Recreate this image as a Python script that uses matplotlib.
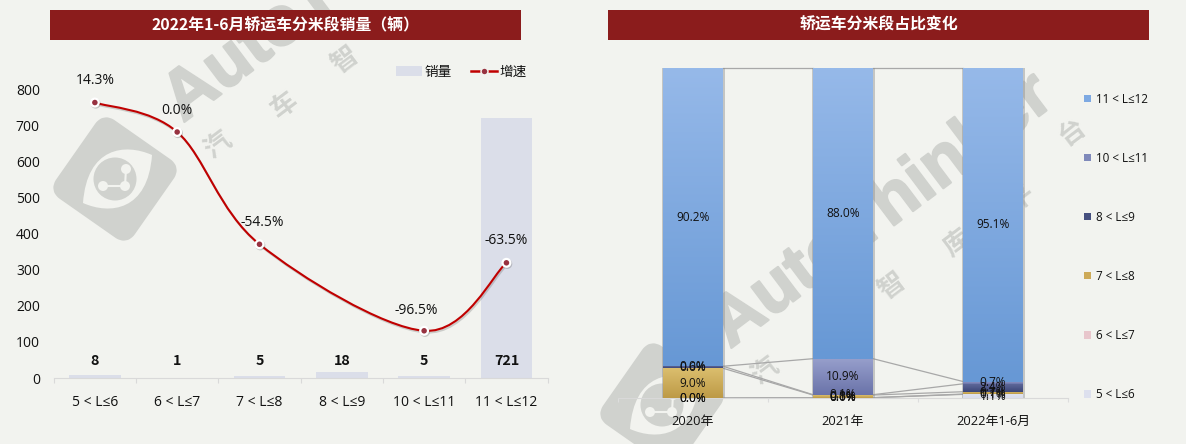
import numpy as np
import matplotlib
matplotlib.use("Agg")
import matplotlib.pyplot as plt
from matplotlib.path import Path
from matplotlib.patches import PathPatch, Rectangle, FancyBboxPatch, Circle, Patch
from matplotlib.lines import Line2D
from matplotlib.transforms import Affine2D
import matplotlib.patheffects as pe

plt.rcParams['font.family'] = ['Open Sans', 'Noto Sans CJK SC', 'DejaVu Sans']
BOLD_FAMILY = ['Noto Sans CJK SC', 'DejaVu Sans']

# ---------- data ----------
length_classes = ['5 < L≤6', '6 < L≤7', '7 < L≤8', '8 < L≤9', '10 < L≤11', '11 < L≤12']
sales = [8, 1, 5, 18, 5, 721]
growth_idx = [0, 1, 2, 4, 5]
growth = [14.3, 0.0, -54.5, -96.5, -63.5]

years = ['2020年', '2021年', '2022年1-6月']
share_5_6 = [0.0, 0.1, 1.1]
share_6_7 = [0.0, 0.0, 0.1]
share_7_8 = [9.0, 0.8, 0.7]
share_8_9 = [0.6, 0.1, 2.4]
share_10_11 = [0.0, 10.9, 0.7]
share_11_12 = [90.2, 88.0, 95.1]

W, H = 1186, 444
BG = '#F2F3EF'
RED = '#8B1C1C'
TXT = '#111111'
WM = '#D0D2CE'

fig = plt.figure(figsize=(W / 100, H / 100), dpi=100, facecolor=BG)


def axes_px(l, t, r, b, **kw):
    return fig.add_axes([l / W, 1 - b / H, (r - l) / W, (b - t) / H], **kw)


# ---------- background layer: watermark + title bars ----------
bg = axes_px(0, 0, W, H, zorder=0)
bg.set_xlim(0, W)
bg.set_ylim(H, 0)
bg.axis('off')


def logo(cx, cy):
    rot = Affine2D().rotate_deg(35).translate(cx, cy) + bg.transData
    bg.add_patch(FancyBboxPatch((-41, -41), 82, 82, boxstyle='round,pad=0,rounding_size=7',
                                mutation_aspect=1, fc=WM, ec=WM, lw=10, joinstyle='round',
                                transform=rot, zorder=1))
    t = Affine2D().translate(cx, cy) + bg.transData
    leaf = Path([(37, -24), (10, -36), (-28, -32), (-32, 24), (-5, 36), (33, 32), (37, -24)],
                [Path.MOVETO, Path.CURVE4, Path.CURVE4, Path.CURVE4, Path.CURVE4, Path.CURVE4, Path.CURVE4])
    bg.add_patch(PathPatch(leaf, fc=BG, ec='none', transform=t, zorder=1.1))
    bg.add_patch(Circle((cx, cy), 21.5, fc=WM, ec='none', zorder=1.2))
    atoms = [(-12, 7), (11, -10), (10, 7)]
    for a, b in [(0, 2), (1, 2)]:
        bg.plot([cx + atoms[a][0], cx + atoms[b][0]], [cy + atoms[a][1], cy + atoms[b][1]],
                color=BG, lw=1.5, zorder=1.3)
    for ax_, ay_ in atoms:
        bg.add_patch(Circle((cx + ax_, cy + ay_), 5, fc=BG, ec='none', zorder=1.3))


def watermark(dx, dy, word, chars):
    bg.text(730 + dx, 349 + dy, word, rotation=37, rotation_mode='anchor',
            ha='left', va='baseline', family='Liberation Sans', weight='bold',
            fontsize=50, color=WM, zorder=1,
            path_effects=[pe.withStroke(linewidth=1.6, foreground=WM)])
    for ch, x, y in chars:
        bg.text(x + dx, y + dy, ch, rotation=37, ha='center', va='center', family=BOLD_FAMILY,
                fontsize=19, color=WM, weight='bold', zorder=1)
    logo(662 + dx, 405 + dy)


wm_chars = [('汽', 765, 371), ('车', 832, 331), ('智', 892, 286),
            ('库', 957, 243), ('平', 1022, 198), ('台', 1072, 132)]
watermark(0, 0, 'AutoThinker', wm_chars)
watermark(-547, -226, 'AutoT', wm_chars[:3])

for l, r, t in [(50, 521, '2022年1-6月轿运车分米段销量（辆）'), (608, 1149, '轿运车分米段占比变化')]:
    bg.add_patch(Rectangle((l, 10), r - l, 30, fc=RED, ec='none', zorder=5))
    bg.text((l + r) / 2, 25, t, color='white', ha='center', va='center', family=BOLD_FAMILY,
            fontsize=11.4, weight='bold', zorder=6)

# ---------- left chart ----------
ax = axes_px(53.7, 60, 547.6, 378, zorder=2, facecolor='none')
PX_PER_UNIT = 0.361
x = np.arange(len(sales))
ax.bar(x, sales, width=0.625, color='#DBDEE9', zorder=2)
ax.set_xlim(-0.5, 5.5)
ax.set_ylim(0, 318 / PX_PER_UNIT)
ax.set_yticks(range(0, 801, 100))
ax.set_xticks(x)
ax.set_xticklabels(length_classes)
ax.set_xticks(np.arange(-0.5, 6, 1), minor=True)
ax.tick_params(axis='x', which='major', length=0, pad=12, labelsize=10, labelcolor=TXT)
ax.tick_params(axis='x', which='minor', length=3.5, color='#D9D9D9', width=0.8)
ax.tick_params(axis='y', length=0, pad=10, labelsize=10, labelcolor=TXT)
for s in ['top', 'left', 'right']:
    ax.spines[s].set_visible(False)
ax.spines['bottom'].set_color('#D9D9D9')
for xi, v in zip(x, sales):
    ax.text(xi, 47, str(v), ha='center', va='center', fontsize=10.3, weight='bold',
            family=BOLD_FAMILY, color=TXT, zorder=6)

ax2 = ax.twinx()
ax2.set_zorder(3)
ax2.patch.set_visible(False)
ax2.set_ylim(-246 / 2.06, 72 / 2.06)
ax2.axis('off')
px = np.array(growth_idx, float)
py = np.array(growth, float)
n = len(px)
verts = [(px[0], py[0])]
codes = [Path.MOVETO]
for i in range(n - 1):
    p0 = (px[max(i - 1, 0)], py[max(i - 1, 0)])
    p1 = (px[i], py[i])
    p2 = (px[i + 1], py[i + 1])
    p3 = (px[min(i + 2, n - 1)], py[min(i + 2, n - 1)])
    c1 = (p1[0] + (p2[0] - p0[0]) / 6, p1[1] + (p2[1] - p0[1]) / 6)
    c2 = (p2[0] - (p3[0] - p1[0]) / 6, p2[1] - (p3[1] - p1[1]) / 6)
    verts += [c1, c2, p2]
    codes += [Path.CURVE4] * 3
curve = PathPatch(Path(verts, codes), fc='none', ec='#C00000', lw=1.5, zorder=4,
                  path_effects=[pe.SimpleLineShadow(offset=(0.8, -1.2), alpha=0.22, shadow_color='#444444'),
                                pe.Normal()])
ax2.add_patch(curve)
ax2.plot(px, py, ls='none', marker='o', ms=5.6, mfc='#973240', mec='white', mew=1.6, zorder=5,
         path_effects=[pe.SimpleLineShadow(offset=(0.6, -0.8), alpha=0.25, shadow_color='#444444'), pe.Normal()])
for xi, yi, v in zip(px, py, growth):
    off = -6 if v == -96.5 else (2 if v == -54.5 else 0)
    dy = 14.5 if v == -96.5 else 15.8
    ax2.annotate(f'{v:.1f}%', (xi, yi), xytext=(off, dy), textcoords='offset points',
                 ha='center', va='center', fontsize=10, color=TXT, zorder=6)

ax.legend(handles=[Patch(fc='#DBDEE9', ec='none'),
                   Line2D([], [], color='#C00000', lw=1.8, marker='o', ms=5, mfc='#973240', mec=BG, mew=1.1)],
          labels=['销量', '增速'], ncol=2, frameon=False, loc='upper right',
          bbox_to_anchor=(0.9636, 0.9937), fontsize=9.8, handlelength=1.9, handleheight=0.7,
          columnspacing=1.4, handletextpad=0.2, labelcolor=TXT, borderaxespad=0.2, borderpad=0)

# ---------- right chart ----------
ar = axes_px(618, 68, 1068, 398, zorder=2, facecolor='none')
stack = np.array([share_5_6, share_6_7, share_7_8, share_8_9, share_10_11, share_11_12], float)
norm = stack / stack.sum(axis=0) * 100
bottoms = np.vstack([np.zeros(3), np.cumsum(norm, axis=0)[:-1]])
xs = np.arange(3)
BW = 0.4
ar.set_xlim(-0.5, 2.5)
ar.set_ylim(0, 100)

colors = ['#DDE0EE', '#E8C6CC', '#CDAA58', '#46507F', '#7F89BA', '#7EA9E2']
grads = [('#DFE2EF', '#DADDEB'), ('#E9C8CE', '#E4BFC6'), ('#DBBE6E', '#BD9A46'),
         ('#5D6799', '#3B4577'), ('#979FCC', '#6A73A9'), ('#96B9E9', '#6798D5')]

ar.bar(xs, [100] * 3, width=BW + 0.02, color='#8E8E8E', alpha=0.45, zorder=2)
for i in range(6):
    bars = ar.bar(xs, norm[i], bottom=bottoms[i], width=BW, color=colors[i], zorder=3, label=length_classes[i])
    c0 = np.array(matplotlib.colors.to_rgb(grads[i][0]))
    c1 = np.array(matplotlib.colors.to_rgb(grads[i][1]))
    g = np.linspace(0, 1, 64)[:, None, None] * (c1 - c0) + c0
    for b in bars:
        if b.get_height() <= 0:
            continue
        im = ar.imshow(g, extent=(b.get_x(), b.get_x() + b.get_width(), b.get_y(), b.get_y() + b.get_height()),
                       aspect='auto', origin='upper', zorder=3.1, interpolation='bilinear')
        im.set_clip_path(b)
ar.set_xlim(-0.5, 2.5)
ar.set_ylim(0, 100)

tops = bottoms + norm
for i in range(6):
    for j in range(2):
        ar.plot([xs[j] + BW / 2, xs[j + 1] - BW / 2], [tops[i, j], tops[i, j + 1]],
                color='#A8A8A8', lw=0.9, zorder=1.5, clip_on=False)

for i in range(6):
    for j in range(3):
        ar.text(xs[j], bottoms[i, j] + norm[i, j] / 2, f'{stack[i, j]:.1f}%', ha='center', va='center',
                fontsize=8.6, color=TXT, zorder=5)

ar.set_xticks(xs)
ar.set_xticklabels(years)
ar.set_xticks(np.arange(-0.5, 3, 1), minor=True)
ar.set_yticks([])
ar.tick_params(axis='x', which='major', length=0, pad=12, labelsize=9.3, labelcolor=TXT)
ar.tick_params(axis='x', which='minor', length=3, color='#DDDDDD', width=0.8)
for s in ['top', 'left', 'right']:
    ar.spines[s].set_visible(False)
ar.spines['bottom'].set_color('#D9D9D9')

h, l = ar.get_legend_handles_labels()
ar.legend(h[::-1], l[::-1], loc='upper left', bbox_to_anchor=(0.98, 1.0), frameon=False,
          fontsize=8.4, handlelength=0.62, handleheight=0.62, handletextpad=0.45,
          labelspacing=3.95, labelcolor=TXT, borderaxespad=0, borderpad=2.1)

fig.savefig('out.png', dpi=100, facecolor=BG)
